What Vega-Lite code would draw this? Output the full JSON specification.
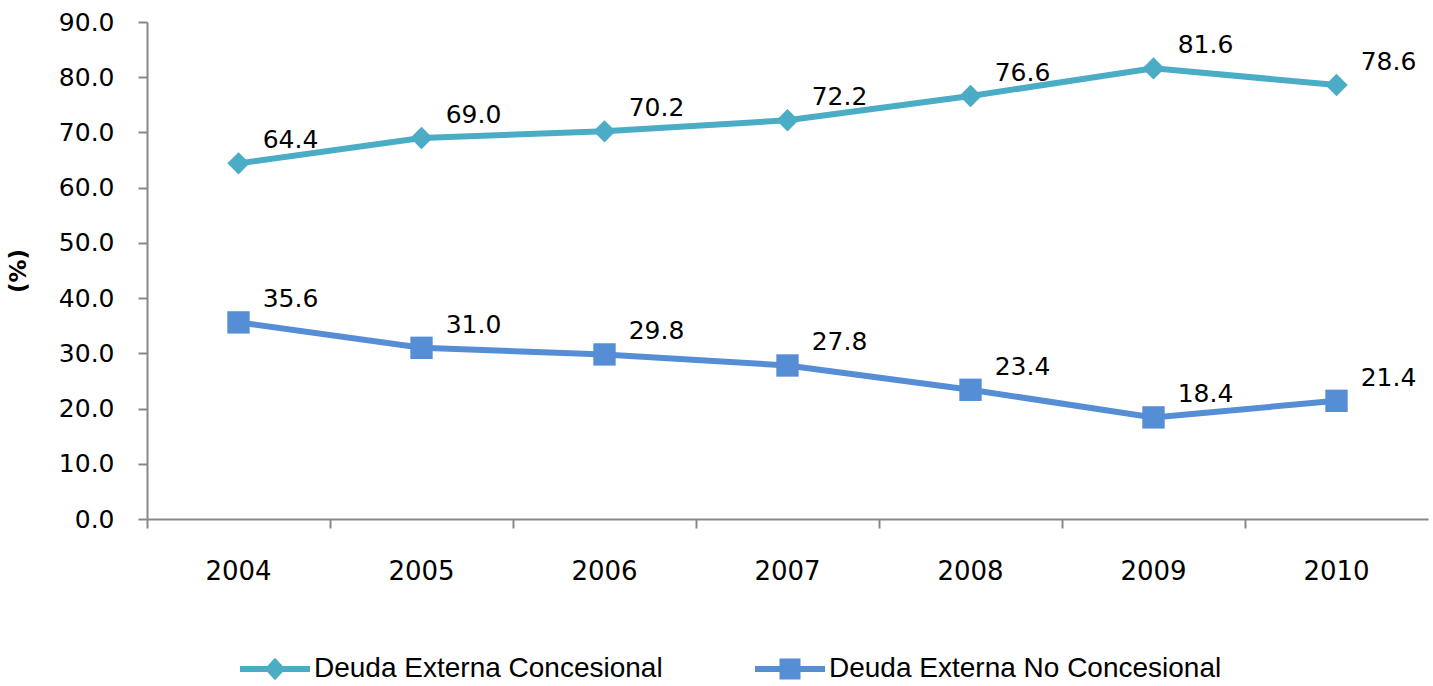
{
  "$schema": "https://vega.github.io/schema/vega-lite/v6.json",
  "width": 1281,
  "height": 497,
  "autosize": {"type": "none"},
  "padding": {"left": 147, "top": 22, "right": 5, "bottom": 167},
  "background": "white",
  "config": {"view": {"stroke": null}},
  "data": {"values": [
    {"year": "2004", "series": "Deuda Externa Concesional", "value": 64.4},
    {"year": "2005", "series": "Deuda Externa Concesional", "value": 69.0},
    {"year": "2006", "series": "Deuda Externa Concesional", "value": 70.2},
    {"year": "2007", "series": "Deuda Externa Concesional", "value": 72.2},
    {"year": "2008", "series": "Deuda Externa Concesional", "value": 76.6},
    {"year": "2009", "series": "Deuda Externa Concesional", "value": 81.6},
    {"year": "2010", "series": "Deuda Externa Concesional", "value": 78.6},
    {"year": "2004", "series": "Deuda Externa No Concesional", "value": 35.6},
    {"year": "2005", "series": "Deuda Externa No Concesional", "value": 31.0},
    {"year": "2006", "series": "Deuda Externa No Concesional", "value": 29.8},
    {"year": "2007", "series": "Deuda Externa No Concesional", "value": 27.8},
    {"year": "2008", "series": "Deuda Externa No Concesional", "value": 23.4},
    {"year": "2009", "series": "Deuda Externa No Concesional", "value": 18.4},
    {"year": "2010", "series": "Deuda Externa No Concesional", "value": 21.4}
  ]},
  "encoding": {
    "x": {
      "field": "year", "type": "ordinal", "bandPosition": 0.5,
      "scale": {"type": "band", "paddingInner": 0, "paddingOuter": 0},
      "axis": {
        "title": null, "labelAngle": 0, "bandPosition": 0,
        "labelFont": "DejaVu Sans", "labelFontSize": 26, "labelColor": "#000000",
        "labelPadding": 30,
        "domainColor": "#888888", "domainWidth": 2, "tickColor": "#888888", "tickWidth": 2, "tickSize": 9,
        "grid": false
      }
    },
    "y": {
      "field": "value", "type": "quantitative",
      "scale": {"domain": [0, 90], "nice": false},
      "axis": {
        "title": "(%)", "titleFont": "DejaVu Sans", "titleFontSize": 23, "titleFontWeight": "bold", "titleColor": "#000000",
        "titlePadding": 28,
        "values": [0, 10, 20, 30, 40, 50, 60, 70, 80, 90], "format": ".1f",
        "labelFont": "DejaVu Sans", "labelFontSize": 25, "labelColor": "#000000", "labelPadding": 24,
        "domainColor": "#888888", "domainWidth": 2, "tickColor": "#888888", "tickWidth": 2, "tickSize": 9,
        "grid": false
      }
    },
    "color": {
      "field": "series", "type": "nominal",
      "scale": {"domain": ["Deuda Externa Concesional", "Deuda Externa No Concesional"], "range": ["#4BACC6", "#558ED5"]},
      "legend": {
        "title": null, "orient": "none", "direction": "horizontal",
        "legendX": 93, "legendY": 612,
        "labelFont": "Liberation Sans", "labelFontSize": 28, "labelColor": "#000000", "labelLimit": 600,
        "symbolSize": 4900, "symbolStrokeWidth": 0, "labelOffset": 4, "columnPadding": 92,
        "symbolOpacity": 1, "symbolType": "square",
        "encode": {
          "symbols": {
            "update": {
              "shape": {"signal": "datum.value === 'Deuda Externa Concesional' ? 'M-1,-0.085H1V0.085H-1Z M0,-0.32L0.3,0L0,0.32L-0.3,0Z' : 'M-1,-0.085H1V0.085H-1Z M-0.3,-0.3H0.3V0.3H-0.3Z'"}
            }
          }
        }
      }
    }
  },
  "layer": [
    {
      "mark": {"type": "line", "strokeWidth": 6}
    },
    {
      "mark": {"type": "point", "filled": true, "opacity": 1, "size": 500},
      "encoding": {
        "shape": {
          "condition": {"test": "datum.series === 'Deuda Externa Concesional'", "value": "diamond"},
          "value": "square"
        }
      }
    },
    {
      "mark": {"type": "text", "dx": 52, "dy": -23, "font": "DejaVu Sans", "fontSize": 25},
      "encoding": {
        "text": {"field": "value", "type": "quantitative", "format": ".1f"},
        "color": {"value": "#000000"}
      }
    }
  ]
}
